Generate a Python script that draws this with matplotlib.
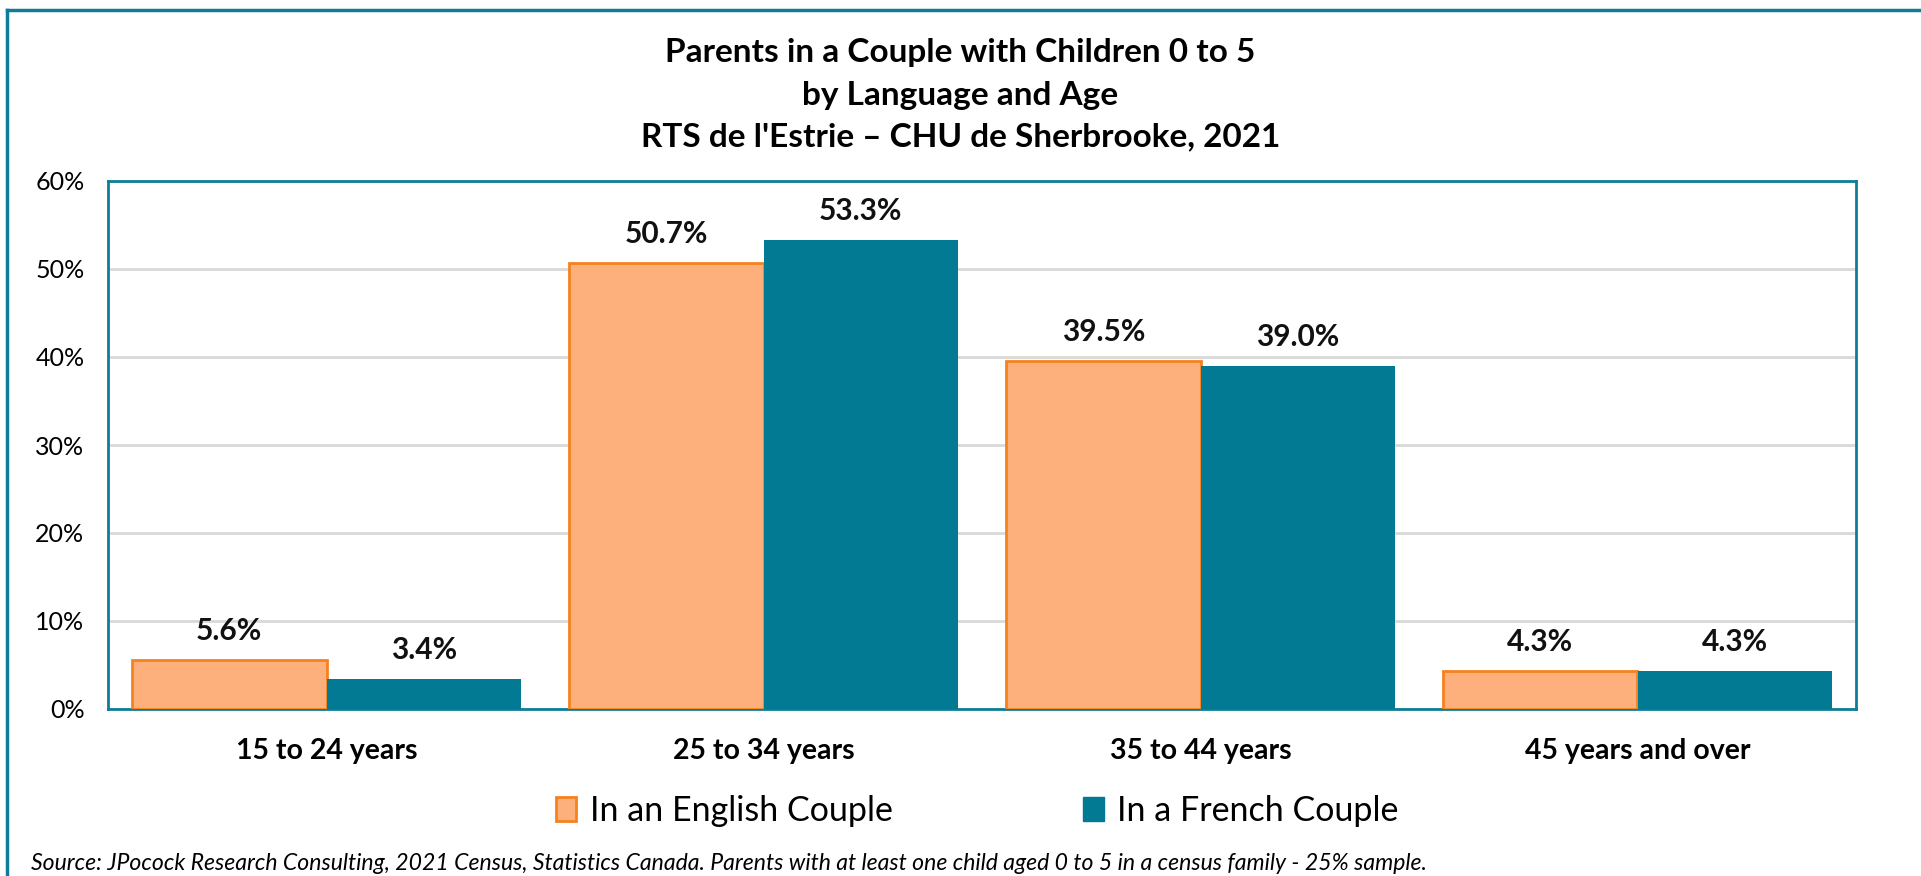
import matplotlib
matplotlib.use("Agg")
import matplotlib.pyplot as plt
import numpy as np
from matplotlib.lines import Line2D
from matplotlib.patches import Patch

# chart data
age_groups = ["15 to 24 years", "25 to 34 years", "35 to 44 years", "45 years and over"]
english_couple = [5.6, 50.7, 39.5, 4.3]
french_couple = [3.4, 53.3, 39.0, 4.3]
series_names = ["In an English Couple", "In a French Couple"]
y_ticks = [0, 10, 20, 30, 40, 50, 60]

title_lines = "Parents in a Couple with Children 0 to 5\nby Language and Age\nRTS de l'Estrie \u2013 CHU de Sherbrooke, 2021"
source_note = ("Source: JPocock Research Consulting, 2021 Census, Statistics Canada. "
               "Parents with at least one child aged 0 to 5 in a census family - 25% sample.")

PEACH = "#FDB07C"
ORANGE = "#F5821F"
TEAL = "#037A94"
FRAME = "#0F7D97"
FONT = "Lato"

fig = plt.figure(figsize=(19.21, 8.76), dpi=100)
W, H = 1921, 876

# axes placed from pixel positions
left, right, top, bottom = 108, 1856, 181, 709
ax = fig.add_axes([left / W, 1 - bottom / H, (right - left) / W, (bottom - top) / H])

x = np.arange(len(age_groups))
bw = 0.445
ax.bar(x - bw / 2, english_couple, bw, color=PEACH, edgecolor=ORANGE, linewidth=2, zorder=3)
ax.bar(x + bw / 2, french_couple, bw, color=TEAL, edgecolor=TEAL, linewidth=0, zorder=3)

for i in range(len(age_groups)):
    ax.text(x[i] - bw / 2, english_couple[i] + 3.3, f"{english_couple[i]:.1f}%", ha="center", va="center",
            fontsize=21.5, fontweight="bold", family=FONT, color="#111111")
    ax.text(x[i] + bw / 2, french_couple[i] + 3.3, f"{french_couple[i]:.1f}%", ha="center", va="center",
            fontsize=21.5, fontweight="bold", family=FONT, color="#111111")

ax.set_xlim(-0.5, 3.5)
ax.set_ylim(0, 60)
ax.set_yticks(y_ticks)
ax.set_yticklabels([f"{t}%" for t in y_ticks], fontsize=18, family=FONT)
ax.set_xticks(x)
ax.set_xticklabels(age_groups, fontsize=20.5, fontweight="bold", family=FONT)
ax.tick_params(axis="both", length=0)
ax.tick_params(axis="x", pad=21)
ax.tick_params(axis="y", pad=17)
ax.grid(axis="y", color="#D9D9D9", linewidth=2, zorder=0)
for s in ax.spines.values():
    s.set_color(FRAME)
    s.set_linewidth(2)

fig.text(0.5, 1 - 95 / H, title_lines, ha="center", va="center", fontsize=24, fontweight="bold",
         family=FONT, linespacing=1.55)

handles = [Patch(facecolor=PEACH, edgecolor=ORANGE, linewidth=2),
           Patch(facecolor=TEAL, edgecolor=TEAL)]
fig.legend(handles, series_names, loc="center", bbox_to_anchor=(0.5087, 1 - 811 / H), ncol=2, frameon=False,
           prop={"family": FONT, "size": 24.5}, handlelength=0.6, handleheight=0.7, handletextpad=0.4,
           columnspacing=5.6)

fig.text(31 / W, 1 - 864 / H, source_note, ha="left", va="center", fontsize=16.6, style="italic", family=FONT)

# outer frame, left and top edges only
fig.add_artist(Line2D([7 / W, 7 / W], [0, 1 - 10 / H], color=FRAME, linewidth=2.5, transform=fig.transFigure))
fig.add_artist(Line2D([7 / W, 1], [1 - 10 / H, 1 - 10 / H], color=FRAME, linewidth=2.5, transform=fig.transFigure))

fig.savefig("out.png", dpi=100, facecolor="white")
